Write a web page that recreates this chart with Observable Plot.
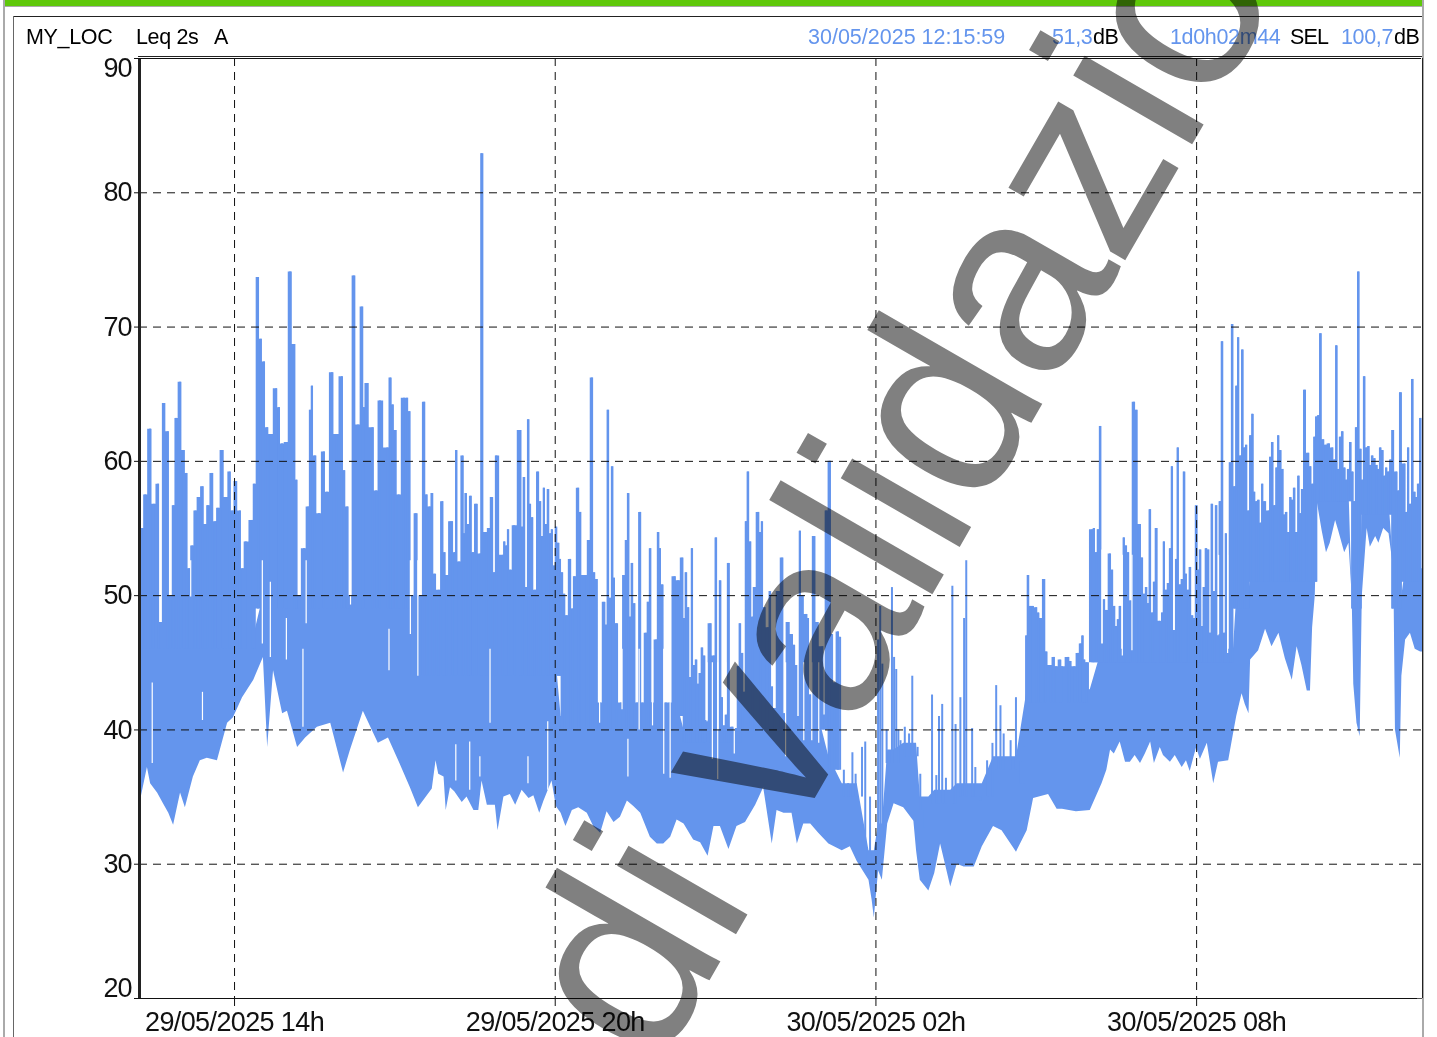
<!DOCTYPE html>
<html>
<head>
<meta charset="utf-8">
<script src="https://cdn.jsdelivr.net/npm/d3@7"></script>
<script src="https://cdn.jsdelivr.net/npm/@observablehq/plot@0.6"></script>
<style>
html,body{margin:0;padding:0;background:#fff;overflow:hidden}
#page{position:relative;width:1437px;height:1037px;overflow:hidden;background:#fff;font-family:"Liberation Sans",Arial,sans-serif}
.box{position:absolute}
.h{position:absolute;top:24px;font-size:21.5px;line-height:27px;white-space:pre;color:#000;letter-spacing:-.35px}
.b{color:#6495ED}
#chart{position:absolute;left:0;top:0}
#chart g[aria-label="x-axis tick label"]{letter-spacing:-.62px}
#chart g[aria-label="y-axis tick label"]{letter-spacing:-1px}
#wm{position:absolute;left:0;top:0;font-size:260px;line-height:1;color:#808080;white-space:pre;letter-spacing:-3px;mix-blend-mode:multiply;transform-origin:0 0;transform:translate(466px,962px) rotate(-60deg);pointer-events:none}
</style>
</head>
<body>
<div id="page">
  <div class="box" style="left:3px;top:0;width:2px;height:1037px;background:#aaa"></div>
  <div class="box" style="left:1422px;top:0;width:2px;height:1037px;background:#aaa"></div>
  <div class="box" style="left:5px;top:0;width:1417px;height:6px;background:#5FC80A"></div>
  <div class="box" style="left:5px;top:6px;width:1417px;height:1px;background:#aaa"></div>
  <div class="box" style="left:13px;top:16px;width:1409px;height:1px;background:#222"></div>
  <div class="box" style="left:13px;top:16px;width:1px;height:1021px;background:#666"></div>
  <div class="box" style="left:138px;top:56px;width:1284px;height:1px;background:#222"></div>
  <div id="chart"></div>
  <span class="h" style="left:26px">MY_LOC</span>
  <span class="h" style="left:136px">Leq 2s</span>
  <span class="h" style="left:214px">A</span>
  <span class="h b" style="left:808px;letter-spacing:0">30/05/2025 12:15:59</span>
  <span class="h b" style="left:1052px">51,3</span>
  <span class="h" style="left:1093px">dB</span>
  <span class="h b" style="left:1170px">1d0h02m44</span>
  <span class="h" style="left:1290px;letter-spacing:-.8px">SEL</span>
  <span class="h b" style="left:1341px">100,7</span>
  <span class="h" style="left:1394px">dB</span>
  <div id="wm">di validazio</div>
</div>
<script>
// All times are hours counted from 29/05/2025 00:00, all levels dB(A).
// Lower edge of the Leq 2s trace, [hour, dB]
const lowAfternoon = [[12.22,35],[12.24,34.7],[12.37,37.2],[12.43,36],[12.56,35.3],[12.67,34.5],[12.77,33.8],[12.86,32.9],[12.99,35.3],[13.08,34.2],[13.23,36.5],[13.36,37.7],[13.49,37.9],[13.68,37.7],[13.87,40.5],[13.98,40.9],[14.15,42.4],[14.36,43.7],[14.54,45.4],[14.62,38.7],[14.73,44.4],[14.9,41.2],[14.99,41.4],[15.18,38.7],[15.33,39.4],[15.55,40.2],[15.8,40.5],[16.04,36.8],[16.17,38.5],[16.41,41.4],[16.69,39],[16.88,39.4],[17.05,37.9],[17.29,35.7],[17.44,34.2]];
const lowEvening = [[17.7,35.6],[17.77,37.7],[17.82,36.7],[17.92,36.5],[17.96,34],[18.04,35.7],[18.12,35.4],[18.26,34.6],[18.35,35],[18.48,34],[18.57,34],[18.63,36.2],[18.73,34.4],[18.88,34.4],[18.93,32.5],[19.04,35],[19.16,35.2],[19.26,34.4],[19.38,35.5],[19.51,34.9],[19.6,35.1],[19.71,33.8],[19.79,34.7],[19.94,36.2],[20.02,34.3],[20.11,33.8],[20.2,32.8],[20.32,34],[20.44,34.2],[20.6,33.8],[20.72,32.8],[20.85,32.3],[20.97,33.9],[21.1,33.1],[21.22,33.5],[21.35,34.7],[21.47,34.3],[21.6,33.8],[21.78,32],[21.91,31.5],[22.03,31.5],[22.16,32],[22.28,33.3],[22.41,33],[22.59,31.8],[22.72,31.6],[22.86,30.6],[22.97,32.8],[23.09,32.8],[23.25,31.1],[23.4,32.8],[23.56,33.1],[23.75,34.4],[23.9,35.7],[24.06,31.5],[24.15,34],[24.28,33.8],[24.43,33.8],[24.53,31.5],[24.65,33],[24.78,33],[24.93,32.3],[25.12,31.5]];
const lowNight = [[25.37,31],[25.52,31.3],[25.65,30.2],[25.87,28.8],[25.93,27.3],[25.97,26],[26.05,29.5],[26.12,28.8],[26.22,33],[26.34,34.5],[26.52,34.2],[26.71,33.2],[26.76,31],[26.83,28.8],[26.99,28],[27.1,29.3],[27.21,31.5],[27.33,29.5],[27.4,28.3],[27.52,30],[27.65,29.8],[27.84,29.8],[27.99,31.3],[28.2,32.8],[28.36,32.5],[28.63,30.9],[28.83,32.5],[28.95,34.9],[29.23,35.2],[29.39,34.1],[29.49,34.1],[29.75,33.9],[30.01,34]];
const lowMorning = [[30.23,36],[30.32,37],[30.39,38.5],[30.46,38.2],[30.57,39.1],[30.67,37.6],[30.76,37.6],[30.85,38.1],[30.95,37.5],[31.04,38.2],[31.14,39.1],[31.21,37.5],[31.32,38.7],[31.38,38.1],[31.51,37.6],[31.6,38.1],[31.73,37.2],[31.81,37.7],[31.88,36.9],[32,38.7],[32.07,37.8],[32.2,39],[32.32,36],[32.41,37.6],[32.6,37.7],[32.69,39.7],[32.75,41],[32.85,42.7],[32.91,41.9],[32.98,41.2],[33.01,45.2],[33.16,45.9],[33.29,47.5],[33.41,46.2],[33.54,47.2],[33.66,45.3],[33.79,43.7],[33.88,46.2],[33.97,44.8],[34.07,42.9],[34.13,42.9],[34.17,47.6],[34.22,50],[34.26,56.9],[34.35,54.8],[34.43,53.2],[34.5,53.9],[34.6,55.6],[34.66,54.8],[34.77,53.2],[34.85,53.9],[34.91,50],[34.94,43.4],[35,40.5],[35.06,39.5],[35.1,50],[35.19,55],[35.25,53.6],[35.35,54.4],[35.41,53.9],[35.5,55],[35.6,54.6],[35.69,51.9],[35.72,40],[35.81,37.9],[35.84,44],[35.91,46.7],[36,47.2],[36.09,46],[36.19,45.8],[36.226,45.8]];
// Top of the always-filled part of the trace, [from hour, dB]
const coreLevels = [[12.2,47],[14.4,50],[17.3,45],[20.1,41],[22.2,42],[22.4,40],[23.5,41],[25.1,38],[25.35,36],[25.8,31],[26,33],[26.15,38.5],[26.5,39],[26.8,35],[27,35.5],[27.5,36],[28,36],[28.2,38],[28.55,38],[28.7,37],[28.8,43],[30.05,46],[32.7,50],[33,52],[34.25,58],[34.9,50],[35.1,57],[35.65,50],[35.85,52]];
// Upper outline of the trace: peaks and the valleys between them, [hour, dB]
const peaksAfternoon = [[12.23,71],[12.27,55],[12.33,57.5],[12.42,62.4],[12.49,56.8],[12.57,58.3],[12.62,48],[12.68,64.3],[12.75,62.2],[12.81,50],[12.86,56.7],[12.91,63.2],[12.98,65.9],[13.05,60.8],[13.1,59.1],[13.15,52],[13.21,53.7],[13.27,56.3],[13.33,57.3],[13.4,58.1],[13.46,55.3],[13.5,56.7],[13.58,59.1],[13.64,55.5],[13.69,56.5],[13.77,60.8],[13.84,57.3],[13.91,59.2],[13.96,56.3],[14.02,58.5],[14.1,56.3],[14.15,52],[14.21,54],[14.33,55.6],[14.37,58.3],[14.44,73.7],[14.49,69.1],[14.55,67.4],[14.61,62.5],[14.67,62],[14.78,65.4],[14.83,64],[14.89,61.3],[14.97,61.4],[15.04,74.1],[15.12,68.7],[15.16,58.6],[15.2,50],[15.3,53.5],[15.38,56.6],[15.42,63.8],[15.45,65.6],[15.5,60.4],[15.58,56.1],[15.67,60.7],[15.73,57.7],[15.82,66.6],[15.9,62],[16.01,66.3],[16.05,59.3],[16.11,56.6],[16.17,50],[16.23,73.8],[16.31,62.7],[16.39,71.5],[16.42,64],[16.46,65.8],[16.58,62.5],[16.65,57.8],[16.72,64.5],[16.86,61],[16.92,66.2],[16.96,64.2],[17.01,62.3],[17.07,57.5],[17.17,64.7],[17.23,64.7],[17.27,63.7],[17.33,50],[17.39,56.1],[17.48,50],[17.55,64.4],[17.59,57.5],[17.65,56.6]];
const peaksEvening = [[17.7,57.6],[17.74,51.6],[17.82,50.4],[17.89,57],[17.93,53.2],[17.97,51.5],[18.04,55.5],[18.07,55.5],[18.12,53.2],[18.15,60.8],[18.2,52.5],[18.27,60.4],[18.29,54.6],[18.33,57.6],[18.37,55.3],[18.42,57.4],[18.46,53.2],[18.52,56.8],[18.6,53.1],[18.62,82.9],[18.71,54.7],[18.75,55],[18.82,57.3],[18.86,51.7],[18.9,60.4],[19.02,53],[19.05,54],[19.09,53.7],[19.12,54.9],[19.16,51.9],[19.23,55.2],[19.35,62.3],[19.38,55.1],[19.42,58.8],[19.46,50.6],[19.5,63.1],[19.53,56.8],[19.57,55.8],[19.62,50.4],[19.68,59.2],[19.72,57],[19.76,54.4],[19.79,58],[19.83,55.3],[19.87,57.9],[19.91,54.6],[19.94,54.9],[19.98,52.2],[20.02,55.1],[20.06,53.9],[20.09,52.7],[20.13,51.7],[20.17,50.1],[20.21,48.5],[20.28,52.7],[20.32,49],[20.36,51.4],[20.43,58],[20.47,56.2],[20.5,51.5],[20.58,51.5],[20.62,54.1],[20.69,66.2],[20.73,51.7],[20.77,51.2],[20.84,42],[20.92,49.5],[20.95,47.8],[20.99,63.8],[21.03,49.8],[21.07,59.6],[21.1,51.3],[21.14,47.9],[21.23,42],[21.29,51.5],[21.33,54.1],[21.37,57.6],[21.4,48.4],[21.44,52.4],[21.48,49.4],[21.53,42],[21.59,56.2],[21.63,42],[21.7,47.2],[21.74,49.5],[21.78,53.5],[21.81,42],[21.89,46.7],[21.93,54.7],[21.96,53.5],[22,50.8],[22.07,42],[22.14,42]];
const peaksLateEvening = [[22.23,51.4],[22.3,51.1],[22.38,52.8],[22.41,48.3],[22.45,51.7],[22.49,49.1],[22.53,43.9],[22.56,53.5],[22.6,44.8],[22.64,45.2],[22.67,43.4],[22.71,44.2],[22.75,46.1],[22.79,45.5],[22.82,40.7],[22.9,47.9],[22.97,45.5],[23.01,54.3],[23.05,39.5],[23.09,51.1],[23.12,42.4],[23.16,40.3],[23.2,41.1],[23.24,52.4],[23.31,40.2],[23.39,40.1],[23.42,44.7],[23.46,47.9],[23.5,45.7],[23.54,42.8],[23.57,55.5],[23.61,59.2],[23.65,54],[23.69,48.4],[23.72,50.6],[23.8,56.2],[23.84,54.7],[23.87,55.5],[23.91,49.1],[23.98,47.6],[24.02,50.3],[24.06,43.2],[24.1,41.6],[24.17,50.3],[24.25,52.8],[24.28,41.2],[24.36,48],[24.43,47.1],[24.47,46.3],[24.51,44.8],[24.55,40.8],[24.58,54.8],[24.62,50],[24.7,48.6],[24.73,48.3],[24.77,42.6],[24.85,54.4],[24.88,48],[25,46.2],[25.03,41.1],[25.07,56.3],[25.14,60],[25.18,47.1],[25.22,43.5],[25.29,47.3],[25.33,46.9]];
const peaksNight = [[25.4,37],[25.48,36],[25.56,38.3],[25.62,36.7],[25.74,38.7],[25.8,39.1],[25.89,35],[26.04,46.7],[26.08,49.2],[26.12,44.9],[26.2,40],[26.3,50.6],[26.34,45.4],[26.38,44.5],[26.42,40],[26.46,39.2],[26.54,40.2],[26.62,39.7],[26.68,44],[26.78,38.7],[26.83,36.7],[26.9,32.7],[27.05,42.6],[27.13,36.6],[27.18,41],[27.24,41.9],[27.31,36.4],[27.43,50.7],[27.49,40.4],[27.58,42.4],[27.65,48.3],[27.69,52.6],[27.8,40.1],[27.86,37.2],[27.96,34.7],[28.08,37.7],[28.18,39],[28.25,43.3],[28.33,41.8],[28.39,39.7],[28.52,39.2],[28.62,42.4],[28.71,37.6],[28.77,38.7]];
const peaksDawn = [[28.81,47],[28.85,51.5],[28.89,49.2],[28.93,49.2],[29,49.1],[29.04,48.7],[29.08,48.3],[29.15,51.2],[29.18,45.8],[29.26,44.8],[29.33,45.4],[29.37,44.7],[29.45,45.2],[29.48,44.7],[29.6,45.4],[29.63,45.1],[29.71,44.7],[29.78,45.7],[29.83,46.4],[29.87,47],[29.9,45.2],[29.94,45],[30.05,54.9],[30.08,55],[30.12,53.2],[30.16,54.9],[30.2,62.6],[30.23,46.4],[30.27,49.7],[30.31,48.9],[30.38,53.1],[30.42,51.9],[30.46,49.2],[30.5,47.7],[30.53,48.2],[30.57,49.2],[30.61,45.5],[30.64,54.3],[30.68,53.7],[30.72,53.2],[30.76,49.6],[30.83,64.4],[30.87,63.8],[30.94,55.3],[30.98,52.8],[31.02,50.1],[31.06,50.6],[31.09,49.4],[31.13,56.4],[31.17,48.7],[31.21,51],[31.24,55],[31.32,48.1],[31.36,48.7],[31.39,54],[31.43,50.4],[31.47,50.9],[31.51,53.5],[31.54,59.6],[31.58,47.4],[31.62,52.7],[31.65,61],[31.69,50.8],[31.73,51.2],[31.77,59.2],[31.8,51.6],[31.84,50.4],[31.88,52.1],[31.92,48.5],[31.95,48.3],[32,56.7],[32.03,51.9],[32.07,53.4],[32.1,47.7],[32.14,50.6],[32.18,53.5],[32.22,53.4],[32.25,47.2],[32.29,56.8],[32.33,50.3],[32.37,56.7],[32.4,47],[32.44,57],[32.48,68.9],[32.52,47.2],[32.55,54.6],[32.59,45.5],[32.63,59.9]];
const peaksMorning = [[32.67,70.2],[32.71,58.1],[32.75,65.6],[32.78,69.2],[32.82,60.4],[32.86,68.3],[32.9,61],[32.93,61.2],[32.97,56.3],[33.01,61.9],[33.05,63.5],[33.08,57.7],[33.12,57],[33.16,57.1],[33.2,55.4],[33.23,58.3],[33.27,57],[33.35,56.3],[33.38,60.3],[33.42,61.4],[33.46,56.7],[33.5,59.5],[33.53,61.9],[33.57,60.8],[33.61,59.4],[33.64,56],[33.68,56.2],[33.72,54.7],[33.76,57.3],[33.79,57.1],[33.83,58],[33.87,54.7],[33.91,58.9],[33.94,56.1],[33.98,57.9],[34.02,65.3],[34.09,60.6],[34.13,59.6],[34.17,58.3],[34.21,61.8],[34.24,63.3],[34.28,63.4],[34.32,69.5],[34.37,61.6],[34.41,61.2],[34.47,61.3],[34.54,61],[34.58,60.1],[34.62,68.6],[34.65,59.4],[34.69,61.8],[34.73,62.2],[34.77,59.5],[34.8,58.6],[34.84,59.4],[34.88,61.4],[34.92,59.2],[34.95,57],[34.99,62.5],[35.03,74.1],[35.07,60.9],[35.1,58.6],[35.14,66.3],[35.18,61],[35.22,61.1],[35.25,59.7],[35.29,60.4],[35.33,60.2],[35.37,59.7],[35.4,59.4],[35.44,61],[35.48,60.8],[35.52,58.9],[35.55,59.5],[35.59,59.2],[35.63,60.1],[35.67,62.3],[35.74,59.2],[35.78,57.8],[35.81,65.1],[35.89,59.8],[35.93,56.2],[35.96,61],[36,56.8],[36.04,66.1],[36.08,57.7],[36.11,57.3],[36.15,58.3],[36.19,63.2]];
// Narrow gaps inside the filled trace, [hour, from dB, to dB]
const gaps = [[12.46,37.5,43.5],[13.18,49.9,52.6],[13.4,40.7,42.8],[14.52,46.4,52.6],[14.67,45.4,51],[14.97,45.2,48.3],[15.28,40.2,46],[15.34,47.9,52.6],[16.17,49.3,52.6],[16.89,44.4,47.5],[17.29,47.1,52.6],[17.43,44,52.6],[18.14,36.2,38.9],[18.4,35.5,39.1],[18.59,36.5,38],[18.78,40.5,46],[19.49,36,38],[19.86,35.5,40.6],[20.83,40.5,46],[21.25,41.5,46],[21.36,36.5,39.3],[21.57,40,46],[21.82,40.3,46],[22.03,36.7,46],[22.15,36.4,46],[22.84,40.6,45],[22.94,37.8,45],[23.04,36.3,45],[23.19,41.2,45],[23.35,38.2,45],[24.09,41.6,45],[24.31,38,45],[24.65,39.2,45],[24.8,39.2,45],[24.93,39,45],[30.23,46.4,53.4],[30.61,45.5,53],[30.79,45.9,53],[31.32,48.1,53],[31.58,47.4,53],[32.41,47.1,53],[32.58,45.7,53]];
// Axes
const yTicksMid = [30,40,50,60,70,80];
const yGrid = [20,30,40,50,60,70,80,90];
const xTickHours = [14,20,26,32];
const xStartHour = 12.222, xEndHour = 36.226;

const toDate = h => new Date(Date.UTC(2025,4,29) + h*3600e3);
const coreHours = coreLevels.map(d=>d[0]);
const coreAt = h => coreLevels[Math.max(0,d3.bisectRight(coreHours,h)-1)][1];
const lowEdge = [...lowAfternoon,...lowEvening,...lowNight,...lowMorning];
const body = lowEdge.map(([h,db])=>({t:toDate(h),low:db,high:Math.max(db,coreAt(h))}));
const toPeak = ([h,db])=>({t:toDate(h),top:db,base:coreAt(h)-1});
const outlineBefore = [...peaksAfternoon,...peaksEvening,...peaksLateEvening].map(toPeak);
const outlineAfter = [...peaksDawn,...peaksMorning].map(toPeak);
const nightPeaks = peaksNight.map(toPeak);
const gapRows = gaps.map(([h,a,b])=>({t:toDate(h),a,b}));

const blue = "#6495ED";
const ink = "#111";
const chart = Plot.plot({
  width:1437, height:1037,
  marginLeft:139, marginRight:15, marginTop:58, marginBottom:39,
  style:{background:"transparent",fontFamily:"'Liberation Sans',Arial,sans-serif",overflow:"visible"},
  x:{type:"utc",domain:[toDate(xStartHour),toDate(xEndHour)]},
  y:{domain:[20,90]},
  marks:[
    Plot.areaY(body,{x:"t",y1:"low",y2:"high",fill:blue}),
    Plot.areaY(outlineBefore,{x:"t",y1:"base",y2:"top",fill:blue,curve:"step"}),
    Plot.areaY(outlineAfter,{x:"t",y1:"base",y2:"top",fill:blue,curve:"step"}),
    Plot.ruleX([...outlineBefore,...outlineAfter],{x:"t",y1:"base",y2:"top",stroke:blue,strokeWidth:2}),
    Plot.ruleX(nightPeaks,{x:"t",y1:"base",y2:"top",stroke:blue,strokeWidth:2}),
    Plot.ruleX(gapRows,{x:"t",y1:"a",y2:"b",stroke:"#fff",strokeWidth:1.2}),
    Plot.ruleY(yGrid,{stroke:ink,strokeWidth:1,strokeDasharray:"8,6"}),
    Plot.ruleX(xTickHours.map(toDate),{stroke:ink,strokeWidth:1,strokeDasharray:"8,6"}),
    Plot.ruleX([toDate(xStartHour)],{stroke:"#222",strokeWidth:3}),
    Plot.ruleX([toDate(xEndHour)],{stroke:"#222",strokeWidth:1}),
    Plot.ruleY([20],{stroke:"#555",strokeWidth:1}),
    Plot.axisX(xTickHours.map(toDate),{anchor:"bottom",tickSize:8,tickPadding:5,label:null,tickFormat:d3.utcFormat("%d/%m/%Y %Hh"),stroke:ink,fontSize:27,fill:"#111"}),
    Plot.axisY(yTicksMid,{anchor:"left",tickSize:5,tickPadding:3,label:null,stroke:ink,fontSize:27,fill:"#111"}),
    Plot.axisY([90],{anchor:"left",tickSize:0,tickPadding:8,dy:10,label:null,fontSize:27,fill:"#111"}),
    Plot.axisY([20],{anchor:"left",tickSize:0,tickPadding:8,dy:-10,label:null,fontSize:27,fill:"#111"}),
    Plot.tickY([20,90],{x1:toDate(xStartHour),dx:-5,stroke:ink})
  ]
});
document.getElementById("chart").append(chart);
</script>
</body>
</html>
